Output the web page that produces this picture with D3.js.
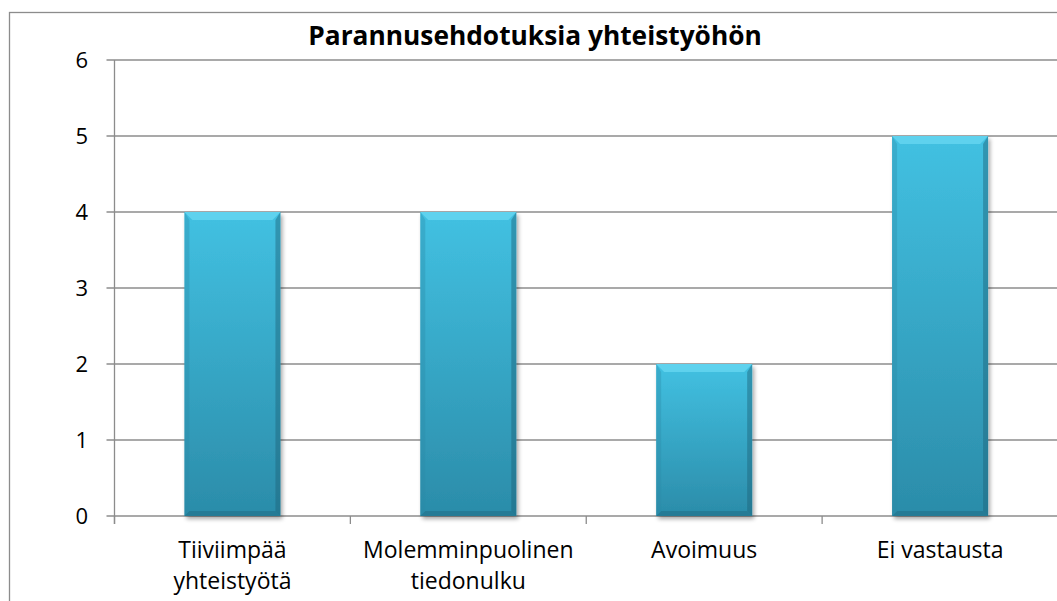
<!DOCTYPE html>
<html lang="fi">
<head>
  <meta charset="UTF-8">
  <title>Parannusehdotuksia yhteistyöhön</title>
  <script src="https://d3js.org/d3.v7.min.js"></script>
  <style>
    body { margin: 0; background: #fff; }
    text { font-family: "Open Sans", "DejaVu Sans", sans-serif; fill: #000; }
    .grid line { stroke: #8c8c8c; stroke-width: 1.3; }
  </style>
</head>
<body>
  <script>
    // data
    const categories = [["Tiiviimpää", "yhteistyötä"], ["Molemminpuolinen", "tiedonulku"], ["Avoimuus"], ["Ei vastausta"]];
    const values = [4, 4, 2, 5];
    const yTicks = [0, 1, 2, 3, 4, 5, 6];
    const title = "Parannusehdotuksia yhteistyöhön";

    const W = 1057, H = 601;
    const plot = { left: 114.5, right: 1058, top: 60, bottom: 516 };

    const svg = d3.select("body").append("svg")
      .attr("width", W).attr("height", H);

    const defs = svg.append("defs");
    const grad = defs.append("linearGradient").attr("id", "barGrad")
      .attr("x1", 0).attr("y1", 0).attr("x2", 0).attr("y2", 1);
    grad.append("stop").attr("offset", "0%").attr("stop-color", "#42c1e2");
    grad.append("stop").attr("offset", "100%").attr("stop-color", "#2b8ca9");

    const shadow = defs.append("filter").attr("id", "shadow")
      .attr("x", "-10%").attr("y", "-10%").attr("width", "130%").attr("height", "130%");
    shadow.append("feGaussianBlur").attr("in", "SourceAlpha").attr("stdDeviation", 2);
    shadow.append("feOffset").attr("dx", 2).attr("dy", 3).attr("result", "off");
    shadow.append("feComponentTransfer").append("feFuncA").attr("type", "linear").attr("slope", 0.35);
    const merge = shadow.append("feMerge");
    merge.append("feMergeNode");
    merge.append("feMergeNode").attr("in", "SourceGraphic");

    // chart frame
    svg.append("rect")
      .attr("x", 9.5).attr("y", 12.5).attr("width", W + 20).attr("height", H + 20)
      .attr("fill", "none").attr("stroke", "#8c8c8c").attr("stroke-width", 1.3);

    // scales
    const x = d3.scaleBand()
      .domain(d3.range(categories.length))
      .range([plot.left, plot.right])
      .paddingInner(0.593).paddingOuter(0.2965);

    const y = d3.scaleLinear()
      .domain([0, 6])
      .range([plot.bottom, plot.top]);

    // gridlines
    svg.append("g").attr("class", "grid")
      .selectAll("line").data(yTicks).enter().append("line")
      .attr("x1", plot.left - 8).attr("x2", W)
      .attr("y1", d => y(d)).attr("y2", d => y(d));

    // y axis
    svg.append("line")
      .attr("x1", plot.left).attr("x2", plot.left)
      .attr("y1", plot.top).attr("y2", plot.bottom + 8)
      .attr("stroke", "#8c8c8c").attr("stroke-width", 1.3);

    svg.append("g").selectAll("text").data(yTicks).enter().append("text")
      .attr("x", 88).attr("y", d => y(d))
      .attr("dy", "0.36em")
      .attr("text-anchor", "end")
      .attr("font-size", 22)
      .text(d => d);

    // x category ticks
    const step = x.step();
    const xTickPos = d3.range(categories.length + 1).map(i => plot.left + i * step);
    svg.append("g").selectAll("line").data(xTickPos).enter().append("line")
      .attr("x1", d => d).attr("x2", d => d)
      .attr("y1", plot.bottom).attr("y2", plot.bottom + 8)
      .attr("stroke", "#8c8c8c").attr("stroke-width", 1.3);

    // bars
    const bars = svg.append("g").selectAll("g").data(values).enter().append("g");
    bars.append("rect")
      .attr("x", (d, i) => x(i))
      .attr("y", d => y(d))
      .attr("width", x.bandwidth())
      .attr("height", d => y(0) - y(d))
      .attr("fill", "url(#barGrad)")
      .attr("filter", "url(#shadow)");

    // bevel highlights
    const bev = 8;
    bars.append("path")
      .attr("d", (d, i) => {
        const x0 = x(i), x1 = x(i) + x.bandwidth(), y0 = y(d);
        return `M${x0},${y0}L${x1},${y0}L${x1 - bev},${y0 + bev}L${x0 + bev},${y0 + bev}Z`;
      })
      .attr("fill", "#6fdcf5").attr("opacity", 0.65);
    bars.append("path")
      .attr("d", (d, i) => {
        const x1 = x(i) + x.bandwidth(), y0 = y(d), yb = y(0);
        return `M${x1},${y0}L${x1},${yb}L${x1 - 5},${yb - 5}L${x1 - 5},${y0 + bev}Z`;
      })
      .attr("fill", "#1d6277").attr("opacity", 0.45);
    bars.append("path")
      .attr("d", (d, i) => {
        const x0 = x(i), x1 = x(i) + x.bandwidth(), yb = y(0);
        return `M${x0},${yb}L${x1},${yb}L${x1 - 5},${yb - 5}L${x0 + 5},${yb - 5}Z`;
      })
      .attr("fill", "#1d6277").attr("opacity", 0.4);
    bars.append("path")
      .attr("d", (d, i) => {
        const x0 = x(i), y0 = y(d), yb = y(0);
        return `M${x0},${y0}L${x0},${yb}L${x0 + 5},${yb - 5}L${x0 + 5},${y0 + bev}Z`;
      })
      .attr("fill", "#2a8aa6").attr("opacity", 0.35);

    // category labels
    const labels = svg.append("g").selectAll("text").data(categories).enter().append("text")
      .attr("text-anchor", "middle")
      .attr("font-size", 23)
      .attr("x", (d, i) => x(i) + x.bandwidth() / 2)
      .attr("y", 558);
    labels.selectAll("tspan").data(d => d).enter().append("tspan")
      .attr("x", function () { return d3.select(this.parentNode).attr("x"); })
      .attr("dy", (d, j) => j === 0 ? 0 : 31)
      .text(d => d);

    // title
    svg.append("text")
      .attr("x", 535).attr("y", 45)
      .attr("text-anchor", "middle")
      .attr("font-size", 26.3)
      .attr("font-weight", "bold")
      .text(title);
  </script>
</body>
</html>
